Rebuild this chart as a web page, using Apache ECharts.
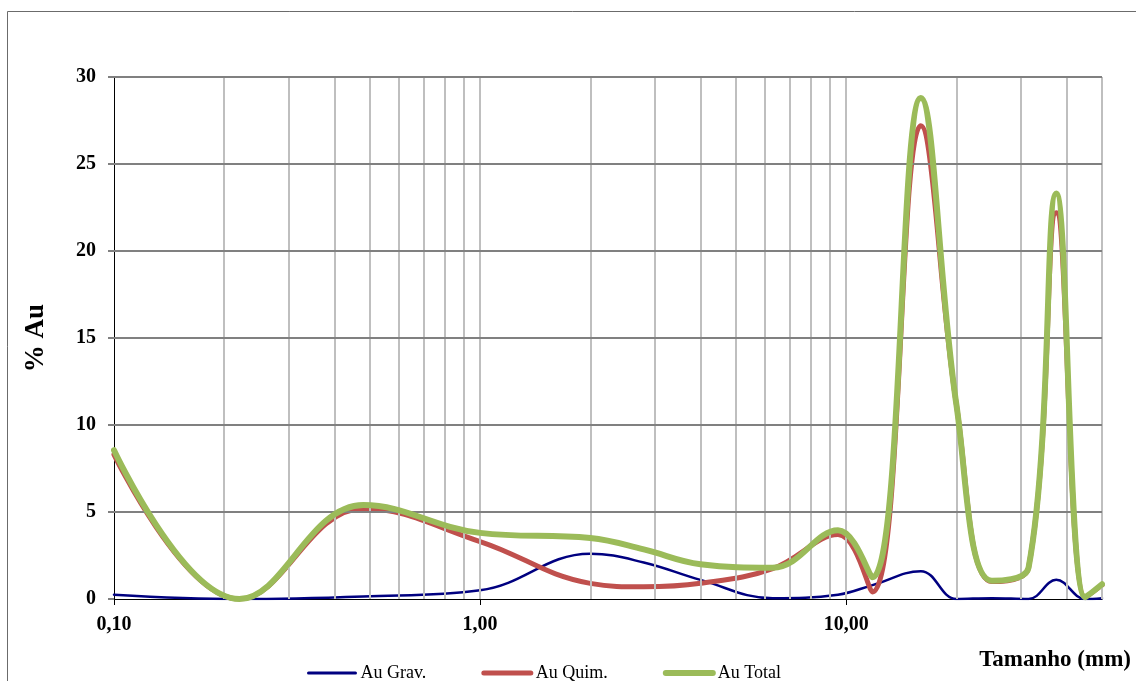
<!DOCTYPE html>
<html>
<head>
<meta charset="utf-8">
<title>% Au por tamanho</title>
<script src="https://cdn.jsdelivr.net/npm/echarts@6/dist/echarts.min.js"></script>
<style>
  html, body { margin: 0; padding: 0; background: #ffffff; }
  #chart { width: 1136px; height: 681px; }
</style>
</head>
<body>
<div id="chart"></div>
<script>
// Particle size (mm) and gold distribution per size fraction
const sizes   = [0.1, 0.22, 0.48, 1.0, 2.0, 2.8, 4.0, 6.3, 9.5, 11.8, 16, 20, 25, 31.5, 37.5, 45, 50];
const auGrav  = [0.25, 0.0, 0.15, 0.5, 2.6, 2.1, 1.1, 0.05, 0.25, 0.8, 1.6, 0.0, 0.05, 0.0, 1.1, 0.0, 0.05];
const auQuim  = [8.3, 0.0, 5.2, 3.3, 0.9, 0.7, 0.9, 1.75, 3.7, 0.4, 27.2, 11.2, 1.0, 1.8, 22.2, 0.1, 0.8];
const auTotal = [8.55, 0.0, 5.4, 3.8, 3.5, 2.85, 2.0, 1.8, 3.95, 1.25, 28.8, 11.2, 1.05, 1.8, 23.3, 0.1, 0.85];

// Axis ticks and grid
const xMajorTicks = [0.1, 1, 10];
const xGridLines  = [0.2, 0.3, 0.4, 0.5, 0.6, 0.7, 0.8, 0.9, 1,
                     2, 3, 4, 5, 6, 7, 8, 9, 10,
                     20, 30, 40, 50];
const yGridLines  = [5, 10, 15, 20, 25, 30];

const FONT = '"Liberation Serif", "Times New Roman", serif';
const SMOOTH = 0.4;

const pairs = (ys) => sizes.map((x, i) => [x, ys[i]]);

const gridLines = [];
xGridLines.forEach(v => gridLines.push({
  xAxis: v, lineStyle: { color: '#bfbfbf', width: 2, type: 'solid' }
}));
yGridLines.forEach(v => gridLines.push({
  yAxis: v, lineStyle: { color: '#808080', width: 2, type: 'solid' }
}));

const chart = echarts.init(document.getElementById('chart'), null, { renderer: 'canvas' });

chart.setOption({
  animation: false,
  backgroundColor: '#ffffff',
  grid: { left: 114, right: 34, top: 77, bottom: 82, containLabel: false },
  xAxis: {
    type: 'log',
    logBase: 10,
    min: 0.1,
    max: 50,
    axisLine: { show: true, lineStyle: { color: '#000000', width: 1 } },
    axisTick: {
      show: true, length: 6, customValues: xMajorTicks,
      lineStyle: { color: '#000000', width: 1 }
    },
    axisLabel: {
      customValues: xMajorTicks,
      margin: 16,
      color: '#000000',
      fontFamily: FONT,
      fontWeight: 'bold',
      fontSize: 20,
      formatter: (v) => Number(v).toFixed(2).replace('.', ',')
    },
    splitLine: { show: false },
    minorTick: { show: false },
    minorSplitLine: { show: false }
  },
  yAxis: {
    type: 'value',
    min: 0,
    max: 30,
    interval: 5,
    name: '% Au',
    nameLocation: 'middle',
    nameGap: 64,
    nameTextStyle: { fontFamily: FONT, fontWeight: 'bold', fontSize: 27, color: '#000000' },
    axisLine: { show: true, lineStyle: { color: '#000000', width: 1 } },
    axisTick: { show: true, length: 6, lineStyle: { color: '#808080', width: 2 } },
    axisLabel: {
      margin: 18,
      color: '#000000',
      fontFamily: FONT,
      fontWeight: 'bold',
      fontSize: 20
    },
    splitLine: { show: false }
  },
  legend: {
    left: 307,
    top: 664,
    padding: 0,
    itemWidth: 47,
    itemHeight: 14,
    itemGap: 55,
    itemStyle: { opacity: 0 },
    textStyle: { fontFamily: FONT, fontSize: 18, color: '#000000' },
    data: [
      { name: 'Au Grav.', lineStyle: { width: 3, cap: 'round' } },
      { name: 'Au Quim.', lineStyle: { width: 5, cap: 'round' } },
      { name: 'Au Total', lineStyle: { width: 6, cap: 'round' } }
    ]
  },
  graphic: [
    {
      type: 'rect', silent: true, z: -10,
      shape: { x: 7.5, y: 11.5, width: 1200, height: 800 },
      style: { fill: 'none', stroke: '#6b6b6b', lineWidth: 1 }
    },
    {
      type: 'text', silent: true,
      style: {
        text: 'Tamanho (mm)', x: 1131, y: 660,
        align: 'right', verticalAlign: 'middle',
        font: 'bold 23px ' + FONT, fill: '#000000'
      }
    }
  ],
  series: [
    {
      name: 'grade',
      type: 'line',
      z: 1,
      data: [],
      silent: true,
      markLine: {
        silent: true,
        symbol: ['none', 'none'],
        label: { show: false },
        animation: false,
        data: gridLines
      }
    },
    {
      name: 'Au Grav.',
      type: 'line',
      z: 3,
      smooth: SMOOTH,
      symbol: 'none',
      data: pairs(auGrav),
      lineStyle: { color: '#000080', width: 2.5, cap: 'round', join: 'round' },
      itemStyle: { color: '#000080' }
    },
    {
      name: 'Au Quim.',
      type: 'line',
      z: 4,
      smooth: SMOOTH,
      symbol: 'none',
      data: pairs(auQuim),
      lineStyle: { color: '#C0504D', width: 5, cap: 'round', join: 'round' },
      itemStyle: { color: '#C0504D' }
    },
    {
      name: 'Au Total',
      type: 'line',
      z: 5,
      smooth: SMOOTH,
      symbol: 'none',
      data: pairs(auTotal),
      lineStyle: { color: '#9BBB59', width: 6, cap: 'round', join: 'round' },
      itemStyle: { color: '#9BBB59' }
    }
  ]
});
</script>
</body>
</html>
